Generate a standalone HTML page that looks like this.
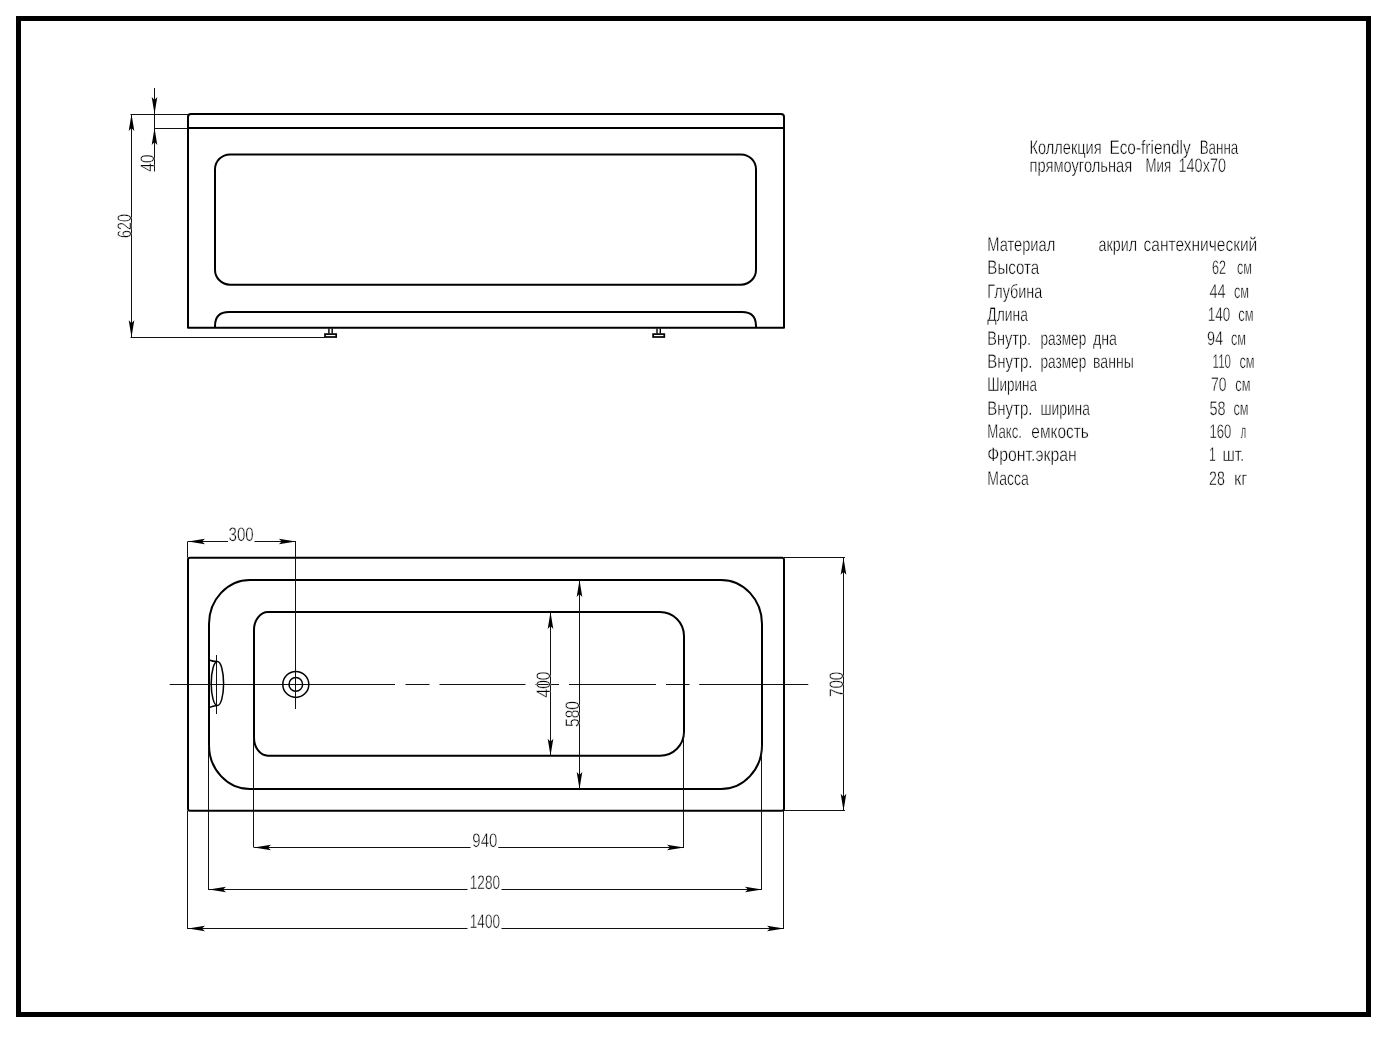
<!DOCTYPE html>
<html lang="ru"><head><meta charset="utf-8"><title>Ванна прямоугольная Мия 140x70</title>
<style>html,body{margin:0;padding:0;background:#fff;}body{width:1393px;height:1037px;overflow:hidden;}svg{display:block;}text{font-family:"Liberation Sans","DejaVu Sans",sans-serif;fill:#000;stroke:#fff;stroke-width:0.4;text-rendering:geometricPrecision;}.k{stroke:#000;stroke-width:2;fill:none;stroke-linejoin:round;}.t{stroke:#111;stroke-width:1;fill:none;}.m{stroke:#000;stroke-width:1.5;fill:none;}.ar{fill:#000;stroke:none;}</style></head><body>
<svg style="will-change:transform" width="1393" height="1037" viewBox="0 0 1393 1037">
<rect x="0" y="0" width="1393" height="1037" fill="#fff"/>
<rect x="18.5" y="18.5" width="1350" height="996" fill="none" stroke="#000" stroke-width="5"/>
<path class="k" d="M188 327.8 L188 117 Q188 114 191 114 L781 114 Q784 114 784 117 L784 327.8 Z"/>
<line class="k" x1="188" y1="128" x2="784" y2="128"/>
<rect class="k" x="215" y="154.4" width="541" height="130.29999999999998" rx="15" ry="15"/>
<path class="k" d="M215 327.8 L215 326 Q215 312 229 312 L742 312 Q756 312 756 326 L756 327.8"/>
<path d="M328.9 328.5 V333.5 M332.2 328.5 V333.5" stroke="#000" stroke-width="1.4" fill="none"/>
<rect x="325.0" y="334.1" width="11.2" height="2.9" fill="none" stroke="#000" stroke-width="1.7"/>
<path d="M657.0 328.5 V333.5 M660.3000000000001 328.5 V333.5" stroke="#000" stroke-width="1.4" fill="none"/>
<rect x="653.1" y="334.1" width="11.2" height="2.9" fill="none" stroke="#000" stroke-width="1.7"/>
<line class="t" x1="131.5" y1="114" x2="131.5" y2="337.2"/>
<line class="t" x1="130.5" y1="114.5" x2="188" y2="114.5"/>
<line class="t" x1="130.5" y1="337.5" x2="325" y2="337.5"/>
<polygon class="ar" points="131.5,114.0 128.7,131.0 131.5,128.0 134.3,131.0"/>
<polygon class="ar" points="131.5,337.2 128.7,320.2 131.5,323.2 134.3,320.2"/>
<text transform="translate(130.8 238) rotate(-90)" x="0" y="0" font-size="19.5" textLength="24" lengthAdjust="spacingAndGlyphs">620</text>
<line class="t" x1="154.5" y1="88" x2="154.5" y2="171.5"/>
<line class="t" x1="154.5" y1="128.5" x2="188" y2="128.5"/>
<polygon class="ar" points="154.5,114.0 151.7,97.0 154.5,100.0 157.3,97.0"/>
<polygon class="ar" points="154.5,128.0 151.7,145.0 154.5,142.0 157.3,145.0"/>
<text transform="translate(153.8 171.5) rotate(-90)" x="0" y="0" font-size="19.5" textLength="17" lengthAdjust="spacingAndGlyphs">40</text>
<rect class="k" x="188" y="557.7" width="596" height="253.0999999999999" rx="2" ry="2"/>
<rect class="k" x="209" y="580" width="553" height="209" rx="41" ry="44"/>
<path class="k" d="M268 612 L660 612 A24 24 0 0 1 684 636 L684 731.7 A24 24 0 0 1 660 755.7 L268 755.7 A14 18 0 0 1 254 737.7 L254 630 A14 18 0 0 1 268 612 Z"/>
<line class="t" x1="169.7" y1="684.5" x2="395" y2="684.5"/>
<line class="t" x1="405.5" y1="684.5" x2="429.5" y2="684.5"/>
<line class="t" x1="439.5" y1="684.5" x2="525.5" y2="684.5"/>
<line class="t" x1="535.5" y1="684.5" x2="559" y2="684.5"/>
<line class="t" x1="569" y1="684.5" x2="656" y2="684.5"/>
<line class="t" x1="666" y1="684.5" x2="689.5" y2="684.5"/>
<line class="t" x1="699.2" y1="684.5" x2="808.3" y2="684.5"/>
<circle class="m" cx="295.8" cy="684.4" r="13"/>
<circle class="m" cx="295.8" cy="684.4" r="6.8"/>
<ellipse class="m" cx="217.4" cy="683.6" rx="6.2" ry="22"/>
<line class="t" x1="216.5" y1="655" x2="216.5" y2="714"/>
<path class="m" d="M209 660 Q213 661.5 217 661.6"/>
<path class="m" d="M209 707.6 Q213 706 217 705.6"/>
<line class="t" x1="187.5" y1="541.4" x2="187.5" y2="557.7"/>
<line class="t" x1="295.5" y1="541.4" x2="295.5" y2="709"/>
<line class="t" x1="188" y1="541.5" x2="228" y2="541.5"/>
<line class="t" x1="254.5" y1="541.5" x2="295.8" y2="541.5"/>
<polygon class="ar" points="188.0,541.5 205.0,538.7 202.0,541.5 205.0,544.3"/>
<polygon class="ar" points="295.8,541.5 278.8,538.7 281.8,541.5 278.8,544.3"/>
<text x="228.5" y="541" font-size="19.5" textLength="25.2" lengthAdjust="spacingAndGlyphs">300</text>
<line class="t" x1="550.5" y1="612" x2="550.5" y2="755.7"/>
<polygon class="ar" points="550.5,612.0 547.7,629.0 550.5,626.0 553.3,629.0"/>
<polygon class="ar" points="550.5,755.7 547.7,738.7 550.5,741.7 553.3,738.7"/>
<text transform="translate(549.6 697.5) rotate(-90)" x="0" y="0" font-size="19.5" textLength="26" lengthAdjust="spacingAndGlyphs">400</text>
<line class="t" x1="579.5" y1="580" x2="579.5" y2="789"/>
<polygon class="ar" points="579.5,580.0 576.7,597.0 579.5,594.0 582.3,597.0"/>
<polygon class="ar" points="579.5,789.0 576.7,772.0 579.5,775.0 582.3,772.0"/>
<text transform="translate(579 727) rotate(-90)" x="0" y="0" font-size="19.5" textLength="26" lengthAdjust="spacingAndGlyphs">580</text>
<line class="t" x1="843.5" y1="557.7" x2="843.5" y2="810.8"/>
<line class="t" x1="784" y1="557.5" x2="845" y2="557.5"/>
<line class="t" x1="784" y1="810.5" x2="845" y2="810.5"/>
<polygon class="ar" points="843.5,557.7 840.7,574.7 843.5,571.7 846.3,574.7"/>
<polygon class="ar" points="843.5,810.8 840.7,793.8 843.5,796.8 846.3,793.8"/>
<text transform="translate(843.2 697) rotate(-90)" x="0" y="0" font-size="19.5" textLength="25.3" lengthAdjust="spacingAndGlyphs">700</text>
<line class="t" x1="253.5" y1="738" x2="253.5" y2="847.5"/>
<line class="t" x1="683.5" y1="732" x2="683.5" y2="847.5"/>
<line class="t" x1="254" y1="847.5" x2="470.6" y2="847.5"/>
<line class="t" x1="498.3" y1="847.5" x2="684" y2="847.5"/>
<polygon class="ar" points="254.0,847.5 271.0,844.7 268.0,847.5 271.0,850.3"/>
<polygon class="ar" points="684.0,847.5 667.0,844.7 670.0,847.5 667.0,850.3"/>
<text x="472.3" y="846.6" font-size="19.5" textLength="25" lengthAdjust="spacingAndGlyphs">940</text>
<line class="t" x1="208.5" y1="745" x2="208.5" y2="890"/>
<line class="t" x1="761.5" y1="745" x2="761.5" y2="890"/>
<line class="t" x1="209" y1="889.5" x2="467.5" y2="889.5"/>
<line class="t" x1="501.5" y1="889.5" x2="762" y2="889.5"/>
<polygon class="ar" points="209.0,889.5 226.0,886.7 223.0,889.5 226.0,892.3"/>
<polygon class="ar" points="762.0,889.5 745.0,886.7 748.0,889.5 745.0,892.3"/>
<text x="469.8" y="889.2" font-size="19.5" textLength="30.2" lengthAdjust="spacingAndGlyphs">1280</text>
<line class="t" x1="187.5" y1="810.8" x2="187.5" y2="929"/>
<line class="t" x1="783.5" y1="810.8" x2="783.5" y2="929"/>
<line class="t" x1="188" y1="928.5" x2="467.5" y2="928.5"/>
<line class="t" x1="501.5" y1="928.5" x2="784" y2="928.5"/>
<polygon class="ar" points="188.0,928.5 205.0,925.7 202.0,928.5 205.0,931.3"/>
<polygon class="ar" points="784.0,928.5 767.0,925.7 770.0,928.5 767.0,931.3"/>
<text x="469.8" y="928" font-size="19.5" textLength="30.2" lengthAdjust="spacingAndGlyphs">1400</text>
<text y="153.7" font-size="19.5"><tspan x="1029.6" textLength="72.0" lengthAdjust="spacingAndGlyphs">Коллекция</tspan> <tspan x="1109.4" textLength="81.3" lengthAdjust="spacingAndGlyphs">Eco-friendly</tspan> <tspan x="1199.7" textLength="38.6" lengthAdjust="spacingAndGlyphs">Ванна</tspan></text>
<text y="171.7" font-size="19.5"><tspan x="1029.6" textLength="102.5" lengthAdjust="spacingAndGlyphs">прямоугольная</tspan> <tspan x="1145.5" textLength="25.6" lengthAdjust="spacingAndGlyphs">Мия</tspan> <tspan x="1178.5" textLength="47.5" lengthAdjust="spacingAndGlyphs">140x70</tspan></text>
<text y="251.0" font-size="19.5"><tspan x="987.3" textLength="67.9" lengthAdjust="spacingAndGlyphs">Материал</tspan> <tspan x="1098.6" textLength="38.4" lengthAdjust="spacingAndGlyphs">акрил</tspan> <tspan x="1143.5" textLength="113.8" lengthAdjust="spacingAndGlyphs">сантехнический</tspan></text>
<text y="274.4" font-size="19.5"><tspan x="987.3" textLength="52.0" lengthAdjust="spacingAndGlyphs">Высота</tspan> <tspan x="1212" textLength="14" lengthAdjust="spacingAndGlyphs">62</tspan> <tspan x="1237" textLength="15" lengthAdjust="spacingAndGlyphs">см</tspan></text>
<text y="297.8" font-size="19.5"><tspan x="987.3" textLength="55.0" lengthAdjust="spacingAndGlyphs">Глубина</tspan> <tspan x="1209.4" textLength="16.2" lengthAdjust="spacingAndGlyphs">44</tspan> <tspan x="1233.9" textLength="15.1" lengthAdjust="spacingAndGlyphs">см</tspan></text>
<text y="321.1" font-size="19.5"><tspan x="987.3" textLength="40.6" lengthAdjust="spacingAndGlyphs">Длина</tspan> <tspan x="1207.7" textLength="22.5" lengthAdjust="spacingAndGlyphs">140</tspan> <tspan x="1238.3" textLength="15.3" lengthAdjust="spacingAndGlyphs">см</tspan></text>
<text y="344.5" font-size="19.5"><tspan x="987.3" textLength="43.7" lengthAdjust="spacingAndGlyphs">Внутр.</tspan> <tspan x="1040.5" textLength="45.7" lengthAdjust="spacingAndGlyphs">размер</tspan> <tspan x="1093" textLength="24" lengthAdjust="spacingAndGlyphs">дна</tspan> <tspan x="1207" textLength="16.1" lengthAdjust="spacingAndGlyphs">94</tspan> <tspan x="1230.9" textLength="15.1" lengthAdjust="spacingAndGlyphs">см</tspan></text>
<text y="367.9" font-size="19.5"><tspan x="987.3" textLength="45.2" lengthAdjust="spacingAndGlyphs">Внутр.</tspan> <tspan x="1040.5" textLength="45.7" lengthAdjust="spacingAndGlyphs">размер</tspan> <tspan x="1093" textLength="40.8" lengthAdjust="spacingAndGlyphs">ванны</tspan> <tspan x="1212.6" textLength="18.3" lengthAdjust="spacingAndGlyphs">110</tspan> <tspan x="1239.5" textLength="15.1" lengthAdjust="spacingAndGlyphs">см</tspan></text>
<text y="391.3" font-size="19.5"><tspan x="987.3" textLength="49.6" lengthAdjust="spacingAndGlyphs">Ширина</tspan> <tspan x="1211" textLength="15.5" lengthAdjust="spacingAndGlyphs">70</tspan> <tspan x="1235.3" textLength="15.2" lengthAdjust="spacingAndGlyphs">см</tspan></text>
<text y="414.7" font-size="19.5"><tspan x="987.3" textLength="45.2" lengthAdjust="spacingAndGlyphs">Внутр.</tspan> <tspan x="1040.5" textLength="49.4" lengthAdjust="spacingAndGlyphs">ширина</tspan> <tspan x="1209.5" textLength="16.1" lengthAdjust="spacingAndGlyphs">58</tspan> <tspan x="1233.4" textLength="15.1" lengthAdjust="spacingAndGlyphs">см</tspan></text>
<text y="438.0" font-size="19.5"><tspan x="987.3" textLength="34.7" lengthAdjust="spacingAndGlyphs">Макс.</tspan> <tspan x="1031.3" textLength="57.6" lengthAdjust="spacingAndGlyphs">емкость</tspan> <tspan x="1209.5" textLength="21.9" lengthAdjust="spacingAndGlyphs">160</tspan> <tspan x="1240.7" textLength="5.3" lengthAdjust="spacingAndGlyphs">л</tspan></text>
<text y="461.4" font-size="19.5"><tspan x="987.3" textLength="89.4" lengthAdjust="spacingAndGlyphs">Фронт.экран</tspan> <tspan x="1209" textLength="6.8" lengthAdjust="spacingAndGlyphs">1</tspan> <tspan x="1222.4" textLength="22.0" lengthAdjust="spacingAndGlyphs">шт.</tspan></text>
<text y="484.8" font-size="19.5"><tspan x="987.3" textLength="41.5" lengthAdjust="spacingAndGlyphs">Масса</tspan> <tspan x="1209" textLength="15.8" lengthAdjust="spacingAndGlyphs">28</tspan> <tspan x="1233.9" textLength="13.4" lengthAdjust="spacingAndGlyphs">кг</tspan></text>
</svg></body></html>
